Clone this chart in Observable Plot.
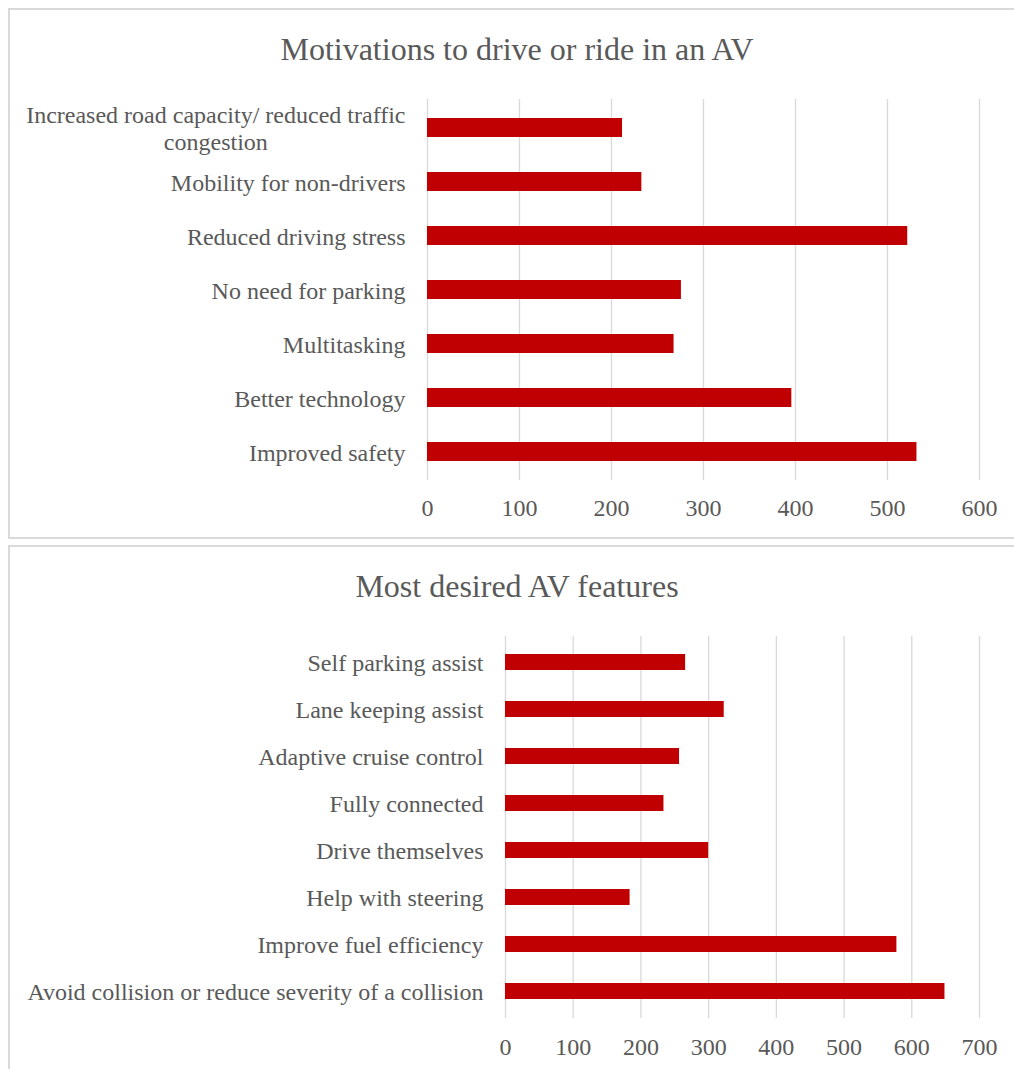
<!DOCTYPE html>
<html><head><meta charset="utf-8">
<script src="https://cdn.jsdelivr.net/npm/d3@7"></script>
<script src="https://cdn.jsdelivr.net/npm/@observablehq/plot@0.6"></script>
<style>
body{margin:0;background:#fff;overflow:hidden;}
#page{position:relative;width:1014px;height:1069px;overflow:hidden;font-family:"Liberation Serif","Times New Roman",serif;color:#595959;}
.panel{position:absolute;border:2px solid #d9d9d9;background:#fff;box-sizing:border-box;}
.title{position:absolute;left:0;width:1034px;text-align:center;font-size:32px;line-height:1;}
.chart{position:absolute;left:0;}
</style></head><body><div id="page">
<div class="panel" style="left:8px;top:8px;width:1030px;height:531px"></div>
<div class="panel" style="left:8px;top:545px;width:1030px;height:540px"></div>
<div class="title" style="top:33px">Motivations to drive or ride in an AV</div>
<div class="title" style="top:570px">Most desired AV features</div>
<div class="chart" id="c1" style="top:80px"></div>
<div class="chart" id="c2" style="top:600px"></div>
</div>
<script>
const motivations = ["Increased road capacity/ reduced traffic\ncongestion", "Mobility for non-drivers", "Reduced driving stress", "No need for parking", "Multitasking", "Better technology", "Improved safety"];
const motivationCounts = [212, 233, 522, 276, 268, 396, 532];
const motivationTicks = [0, 100, 200, 300, 400, 500, 600];

const features = ["Self parking assist", "Lane keeping assist", "Adaptive cruise control", "Fully connected", "Drive themselves", "Help with steering", "Improve fuel efficiency", "Avoid collision or reduce severity of a collision"];
const featureCounts = [266, 323, 257, 234, 300, 184, 578, 649];
const featureTicks = [0, 100, 200, 300, 400, 500, 600, 700];

const BAR = "#c00000", GRID = "#d9d9d9", TEXT = "#595959";

function makeChart(cats, vals, ticks, opts) {
  const data = cats.map((c, i) => ({label: c, value: vals[i]}));
  return Plot.plot({
    width: 1014, height: opts.height,
    marginTop: opts.mt, marginBottom: opts.mb, marginLeft: opts.ml, marginRight: 35,
    style: {fontFamily: '"Liberation Serif","Times New Roman",serif', fontSize: "24px", color: TEXT, background: "transparent", overflow: "visible"},
    x: {domain: [ticks[0], ticks[ticks.length - 1]], label: null},
    y: {domain: cats, paddingInner: 0.65, paddingOuter: 0.325, label: null},
    marks: [
      Plot.gridX(ticks, {stroke: GRID, strokeOpacity: 1, strokeWidth: 1.3}),
      Plot.barX(data, {x: "value", y: "label", fill: BAR}),
      Plot.axisX(ticks, {tickSize: 0, tickPadding: opts.xpad, fontSize: 24, label: null}),
      Plot.axisY({tickSize: 0, tickPadding: 22, fontSize: 24, lineHeight: 1.13, label: null})
    ]
  });
}

const c1 = makeChart(motivations, motivationCounts, motivationTicks, {height: 455, mt: 19, mb: 55, ml: 427, xpad: 18});
document.getElementById("c1").appendChild(c1);
const c2 = makeChart(features, featureCounts, featureTicks, {height: 460, mt: 36, mb: 42, ml: 505, xpad: 19});
document.getElementById("c2").appendChild(c2);

// center the lines of multi-line category labels (as in the original)
for (const svg of [c1, c2]) {
  svg.querySelectorAll("text").forEach(t => {
    const spans = t.querySelectorAll("tspan");
    if (spans.length > 1 && (t.getAttribute("text-anchor") === "end" || getComputedStyle(t).textAnchor === "end")) {
      const b0 = t.getBBox();
      const r0 = b0.x + b0.width;
      t.setAttribute("text-anchor", "middle");
      const b1 = t.getBBox();
      const shift = r0 - (b1.x + b1.width);
      spans.forEach(s => s.setAttribute("x", (parseFloat(s.getAttribute("x")) || 0) + shift));
    }
  });
}
</script></body></html>
